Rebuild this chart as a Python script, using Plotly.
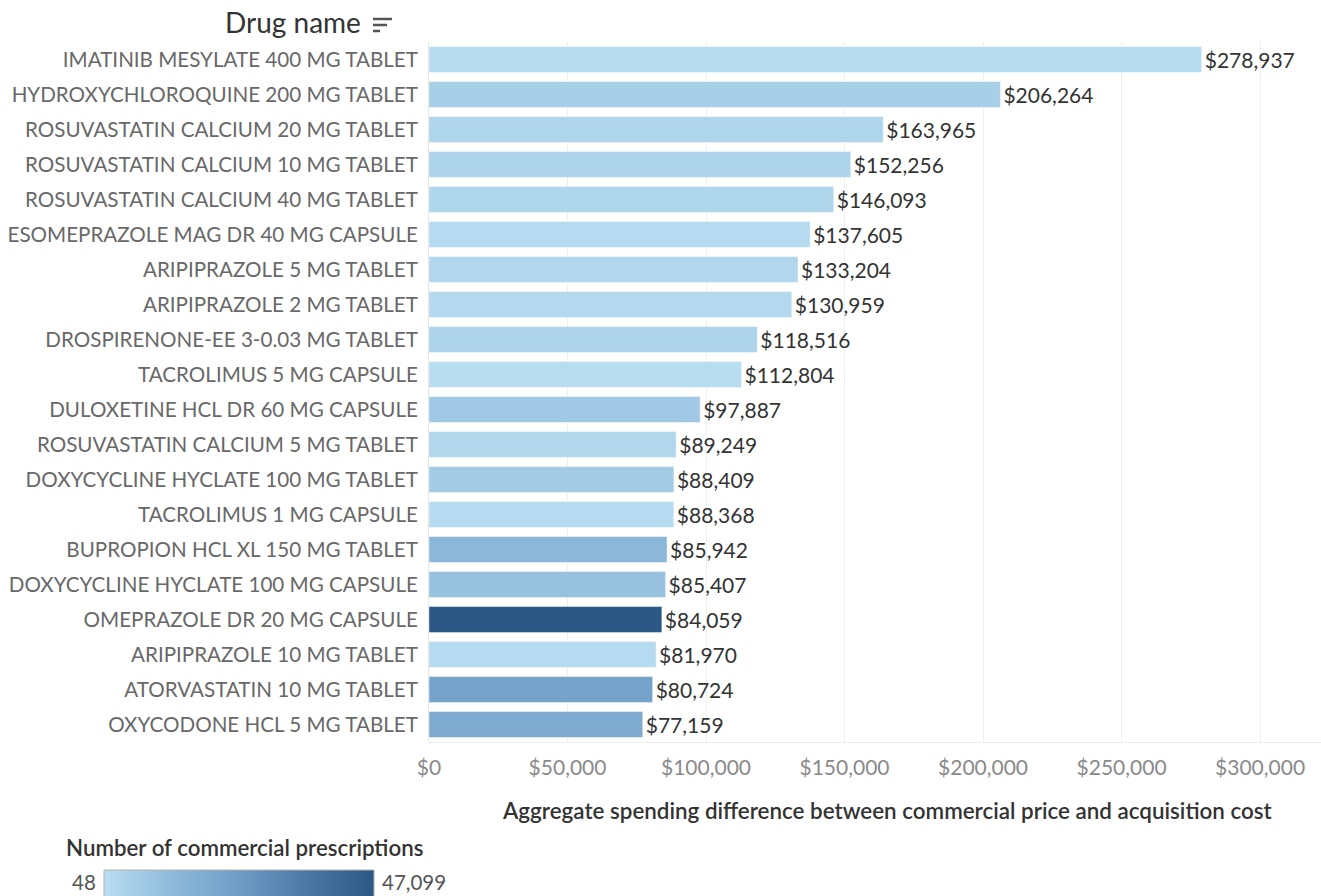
import plotly.graph_objects as go

drugs = [
    "IMATINIB MESYLATE 400 MG TABLET",
    "HYDROXYCHLOROQUINE 200 MG TABLET",
    "ROSUVASTATIN CALCIUM 20 MG TABLET",
    "ROSUVASTATIN CALCIUM 10 MG TABLET",
    "ROSUVASTATIN CALCIUM 40 MG TABLET",
    "ESOMEPRAZOLE MAG DR 40 MG CAPSULE",
    "ARIPIPRAZOLE 5 MG TABLET",
    "ARIPIPRAZOLE 2 MG TABLET",
    "DROSPIRENONE-EE 3-0.03 MG TABLET",
    "TACROLIMUS 5 MG CAPSULE",
    "DULOXETINE HCL DR 60 MG CAPSULE",
    "ROSUVASTATIN CALCIUM 5 MG TABLET",
    "DOXYCYCLINE HYCLATE 100 MG TABLET",
    "TACROLIMUS 1 MG CAPSULE",
    "BUPROPION HCL XL 150 MG TABLET",
    "DOXYCYCLINE HYCLATE 100 MG CAPSULE",
    "OMEPRAZOLE DR 20 MG CAPSULE",
    "ARIPIPRAZOLE 10 MG TABLET",
    "ATORVASTATIN 10 MG TABLET",
    "OXYCODONE HCL 5 MG TABLET",
]

spending_diff = [278937, 206264, 163965, 152256, 146093, 137605, 133204, 130959,
                 118516, 112804, 97887, 89249, 88409, 88368, 85942, 85407,
                 84059, 81970, 80724, 77159]

prescriptions = [500, 4800, 2900, 3000, 2500, 1000, 2000, 1500,
                 3000, 400, 6700, 2000, 6200, 600, 13000, 9500,
                 47099, 1000, 21000, 18000]

rx_min, rx_max = 48, 47099
x_ticks = [0, 50000, 100000, 150000, 200000, 250000, 300000]
x_tick_labels = ["$0", "$50,000", "$100,000", "$150,000", "$200,000", "$250,000", "$300,000"]

W, H = 1321, 896
FONT = "Lato"
blues = [[0.0, "#b9ddf1"], [0.25, "#8fbadb"], [0.5, "#6e9cc5"],
         [0.75, "#4b78a5"], [1.0, "#2a5783"]]


def fx(px):
    return px / W


def fy(py):
    return 1 - py / H


# plot area in pixels
PL, PR, PT, PB = 429, W, 42, 742
# colour legend strip in pixels
LL, LR, LT, LB = 104, 374, 870, 896

fig = go.Figure()

fig.add_trace(go.Bar(
    x=spending_diff,
    y=drugs,
    orientation="h",
    marker=dict(
        color=prescriptions,
        colorscale=blues,
        cmin=rx_min,
        cmax=rx_max,
        line=dict(color="rgba(255,255,255,0.45)", width=1),
        showscale=False,
    ),
    text=[f"${v:,.0f}" for v in spending_diff],
    textposition="outside",
    textfont=dict(family=FONT, size=21, color="#333333"),
    cliponaxis=False,
    width=0.74,
    hoverinfo="skip",
))

# colour ramp for the prescriptions legend
fig.add_trace(go.Heatmap(
    z=[[rx_min, rx_max]],
    x=[rx_min, rx_max],
    y=[0],
    colorscale=blues,
    zmin=rx_min, zmax=rx_max,
    zsmooth="best",
    showscale=False,
    hoverinfo="skip",
    xaxis="x2", yaxis="y2",
))

fig.update_layout(
    width=W, height=H,
    margin=dict(l=0, r=0, t=0, b=0, autoexpand=False),
    plot_bgcolor="white", paper_bgcolor="white",
    showlegend=False,
    font=dict(family=FONT),
    xaxis=dict(
        domain=[fx(PL), fx(PR)],
        anchor="y",
        automargin=False,
        range=[0, 322000],
        tickvals=x_ticks, ticktext=x_tick_labels,
        tickfont=dict(family=FONT, size=21, color="#8a8a8a"),
        showgrid=True, gridcolor="#efefef", gridwidth=1,
        zeroline=False,
        showline=True, linecolor="#ececec", linewidth=1,
        ticks="", ticklabelstandoff=7,
        fixedrange=True,
    ),
    yaxis=dict(
        domain=[fy(PB), fy(PT)],
        anchor="x",
        automargin=False,
        autorange="reversed",
        tickfont=dict(family=FONT, size=20.6, color="#686868"),
        showgrid=False, zeroline=False,
        showline=True, linecolor="#e6e6e6", linewidth=1,
        ticks="", ticklabelstandoff=6,
        fixedrange=True,
    ),
    xaxis2=dict(
        domain=[fx(LL), fx(LR)], anchor="y2",
        automargin=False,
        range=[rx_min, rx_max],
        visible=False, fixedrange=True,
    ),
    yaxis2=dict(
        domain=[fy(LB), fy(LT)], anchor="x2",
        automargin=False,
        range=[-0.5, 0.5],
        visible=False, fixedrange=True,
    ),
    annotations=[
        dict(text="Drug name", xref="paper", yref="paper",
             x=fx(223), y=fy(22), xanchor="left", yanchor="middle",
             showarrow=False, font=dict(family=FONT, size=28, color="#333333")),
        dict(text="Aggregate spending difference between commercial price and acquisition cost",
             xref="paper", yref="paper", x=fx(887), y=fy(810),
             xanchor="center", yanchor="middle", showarrow=False,
             font=dict(family=FONT, size=22.4, color="#333333", weight=600)),
        dict(text="Number of commercial prescriptions", xref="paper", yref="paper",
             x=fx(64), y=fy(847), xanchor="left", yanchor="middle",
             showarrow=False, font=dict(family=FONT, size=22.3, color="#333333", weight=600)),
        dict(text=f"{rx_min:,}", xref="paper", yref="paper",
             x=fx(98), y=fy(882), xanchor="right", yanchor="middle",
             showarrow=False, font=dict(family=FONT, size=20.5, color="#555555")),
        dict(text=f"{rx_max:,}", xref="paper", yref="paper",
             x=fx(380), y=fy(882), xanchor="left", yanchor="middle",
             showarrow=False, font=dict(family=FONT, size=20.5, color="#555555")),
    ],
)

# legend strip outline
fig.add_shape(type="rect", xref="paper", yref="paper",
              x0=fx(LL), x1=fx(LR), y0=fy(LB + 2), y1=fy(LT),
              line=dict(color="#b8b0a8", width=1))

# sort indicator next to the row header
for py, x1 in [(19, 392), (25, 387), (31, 380)]:
    fig.add_shape(type="line", xref="paper", yref="paper",
                  x0=fx(373), x1=fx(x1), y0=fy(py), y1=fy(py),
                  line=dict(color="#555555", width=2.5))

fig.write_html("out.html")
